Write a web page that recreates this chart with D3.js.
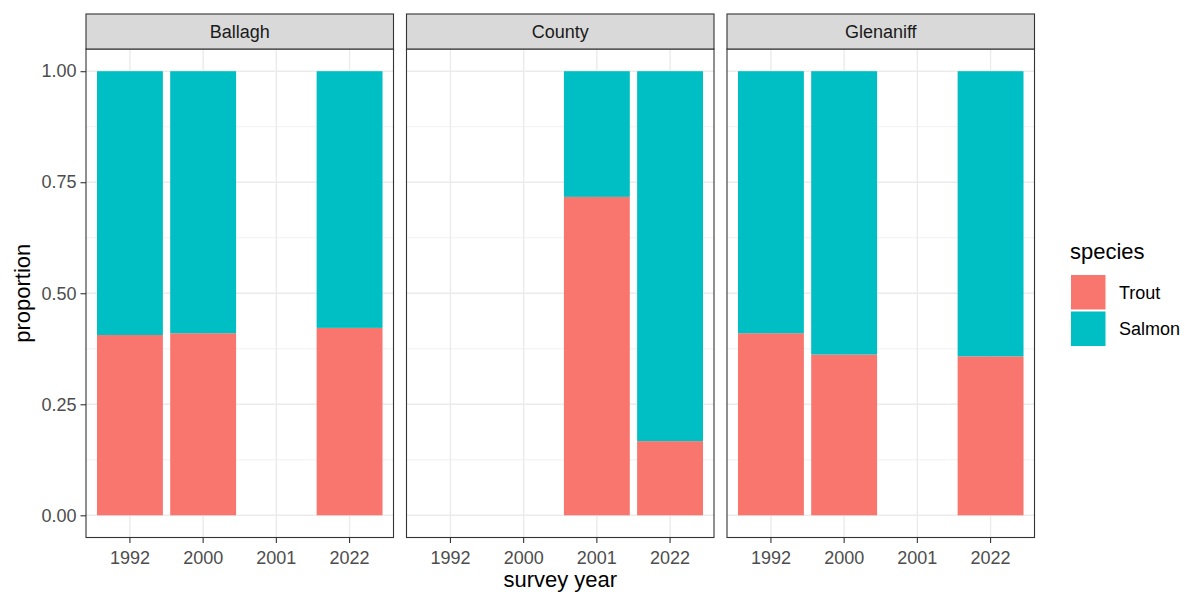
<!DOCTYPE html>
<html><head><meta charset="utf-8">
<script src="https://cdn.jsdelivr.net/npm/d3@7"></script>
<style>body{margin:0;background:#fff;} svg{display:block;font-family:"Liberation Sans",Arial,sans-serif;}</style>
</head><body><svg id="c" width="1185" height="592"></svg>
<script>
const sites = ["Ballagh", "County", "Glenaniff"];
const years = ["1992", "2000", "2001", "2022"];
const species = ["Trout", "Salmon"];
const speciesColors = ["#F8766D", "#00BFC4"];
// proportions per site, by year (null = no survey)
const troutBallagh = [0.406, 0.410, null, 0.422];
const salmonBallagh = [0.594, 0.590, null, 0.578];
const troutCounty = [null, null, 0.717, 0.167];
const salmonCounty = [null, null, 0.283, 0.833];
const troutGlenaniff = [0.410, 0.362, null, 0.358];
const salmonGlenaniff = [0.590, 0.638, null, 0.642];
const yTicks = [0, 0.25, 0.5, 0.75, 1.0];
const yTickLabels = ["0.00", "0.25", "0.50", "0.75", "1.00"];

const siteData = {
  Ballagh: [troutBallagh, salmonBallagh],
  County: [troutCounty, salmonCounty],
  Glenaniff: [troutGlenaniff, salmonGlenaniff]
};

const svg = d3.select("#c");
const panelX0 = [86, 406.5, 727];
const panelW = 307.5;
const stripTop = 14, panelTop = 49, panelBottom = 537.5;

const y = d3.scaleLinear().domain([-0.05, 1.05]).range([panelBottom, panelTop]);
const minor = [0.125, 0.375, 0.625, 0.875];

sites.forEach((site, si) => {
  const x0 = panelX0[si];
  const x = d3.scaleBand().domain(years).range([x0, x0 + panelW]).paddingInner(0.1).paddingOuter(0.15);
  const g = svg.append("g");
  g.append("rect").attr("x", x0).attr("y", panelTop).attr("width", panelW).attr("height", panelBottom - panelTop).attr("fill", "#fff");
  g.selectAll(".mn").data(minor).join("line")
    .attr("x1", x0).attr("x2", x0 + panelW).attr("y1", d => y(d)).attr("y2", d => y(d))
    .attr("stroke", "#EBEBEB").attr("stroke-width", 0.7);
  g.selectAll(".mj").data(yTicks).join("line")
    .attr("x1", x0).attr("x2", x0 + panelW).attr("y1", d => y(d)).attr("y2", d => y(d))
    .attr("stroke", "#EBEBEB").attr("stroke-width", 1.4);
  g.selectAll(".vx").data(years).join("line")
    .attr("x1", d => x(d) + x.bandwidth() / 2).attr("x2", d => x(d) + x.bandwidth() / 2)
    .attr("y1", panelTop).attr("y2", panelBottom)
    .attr("stroke", "#EBEBEB").attr("stroke-width", 1.4);
  const vals = siteData[site];
  years.forEach((yr, yi) => {
    let cum = 0;
    species.forEach((sp, k) => {
      const v = vals[k][yi];
      if (v == null) return;
      g.append("rect")
        .attr("x", x(yr)).attr("width", x.bandwidth())
        .attr("y", y(cum + v)).attr("height", y(cum) - y(cum + v))
        .attr("fill", speciesColors[k]);
      cum += v;
    });
  });
  g.append("rect").attr("x", x0).attr("y", panelTop).attr("width", panelW).attr("height", panelBottom - panelTop)
    .attr("fill", "none").attr("stroke", "#333333").attr("stroke-width", 1.1);
  g.append("rect").attr("x", x0).attr("y", stripTop).attr("width", panelW).attr("height", panelTop - stripTop)
    .attr("fill", "#D9D9D9").attr("stroke", "#333333").attr("stroke-width", 1.1);
  g.append("text").attr("x", x0 + panelW / 2).attr("y", (stripTop + panelTop) / 2).attr("dy", "0.35em")
    .attr("text-anchor", "middle").attr("fill", "#1A1A1A").style("font-size", "18px").text(site);
  const xa = svg.append("g").attr("transform", `translate(0,${panelBottom})`)
    .call(d3.axisBottom(x).tickSize(5.5).tickPadding(4));
  xa.select(".domain").remove();
  xa.selectAll(".tick line").attr("stroke", "#333333").attr("stroke-width", 1.1);
  xa.selectAll(".tick text").attr("fill", "#4D4D4D").style("font-size", "18px").attr("dy", "0.95em");
  if (si === 0) {
    const ya = svg.append("g").attr("transform", `translate(${x0},0)`)
      .call(d3.axisLeft(y).tickValues(yTicks).tickFormat((d, i) => yTickLabels[i]).tickSize(5.5).tickPadding(4));
    ya.select(".domain").remove();
    ya.selectAll(".tick line").attr("stroke", "#333333").attr("stroke-width", 1.1);
    ya.selectAll(".tick text").attr("fill", "#4D4D4D").style("font-size", "18px");
  }
});

svg.append("text").attr("x", (panelX0[0] + panelX0[2] + panelW) / 2).attr("y", 587)
  .attr("text-anchor", "middle").attr("fill", "#000").style("font-size", "22px").text("survey year");
svg.append("text").attr("transform", `translate(30,${(panelTop + panelBottom) / 2}) rotate(-90)`)
  .attr("text-anchor", "middle").attr("fill", "#000").style("font-size", "22px").text("proportion");

const lg = svg.append("g");
lg.append("text").attr("x", 1070).attr("y", 259).attr("fill", "#000").style("font-size", "22px").text("species");
species.forEach((sp, i) => {
  const ky = 275 + i * 36.5;
  lg.append("rect").attr("x", 1071).attr("y", ky).attr("width", 34.5).attr("height", 34.5).attr("fill", speciesColors[i]);
  lg.append("text").attr("x", 1119).attr("y", ky + 17.5).attr("dy", "0.35em").attr("fill", "#000")
    .style("font-size", "18px").text(sp);
});
</script></body></html>
